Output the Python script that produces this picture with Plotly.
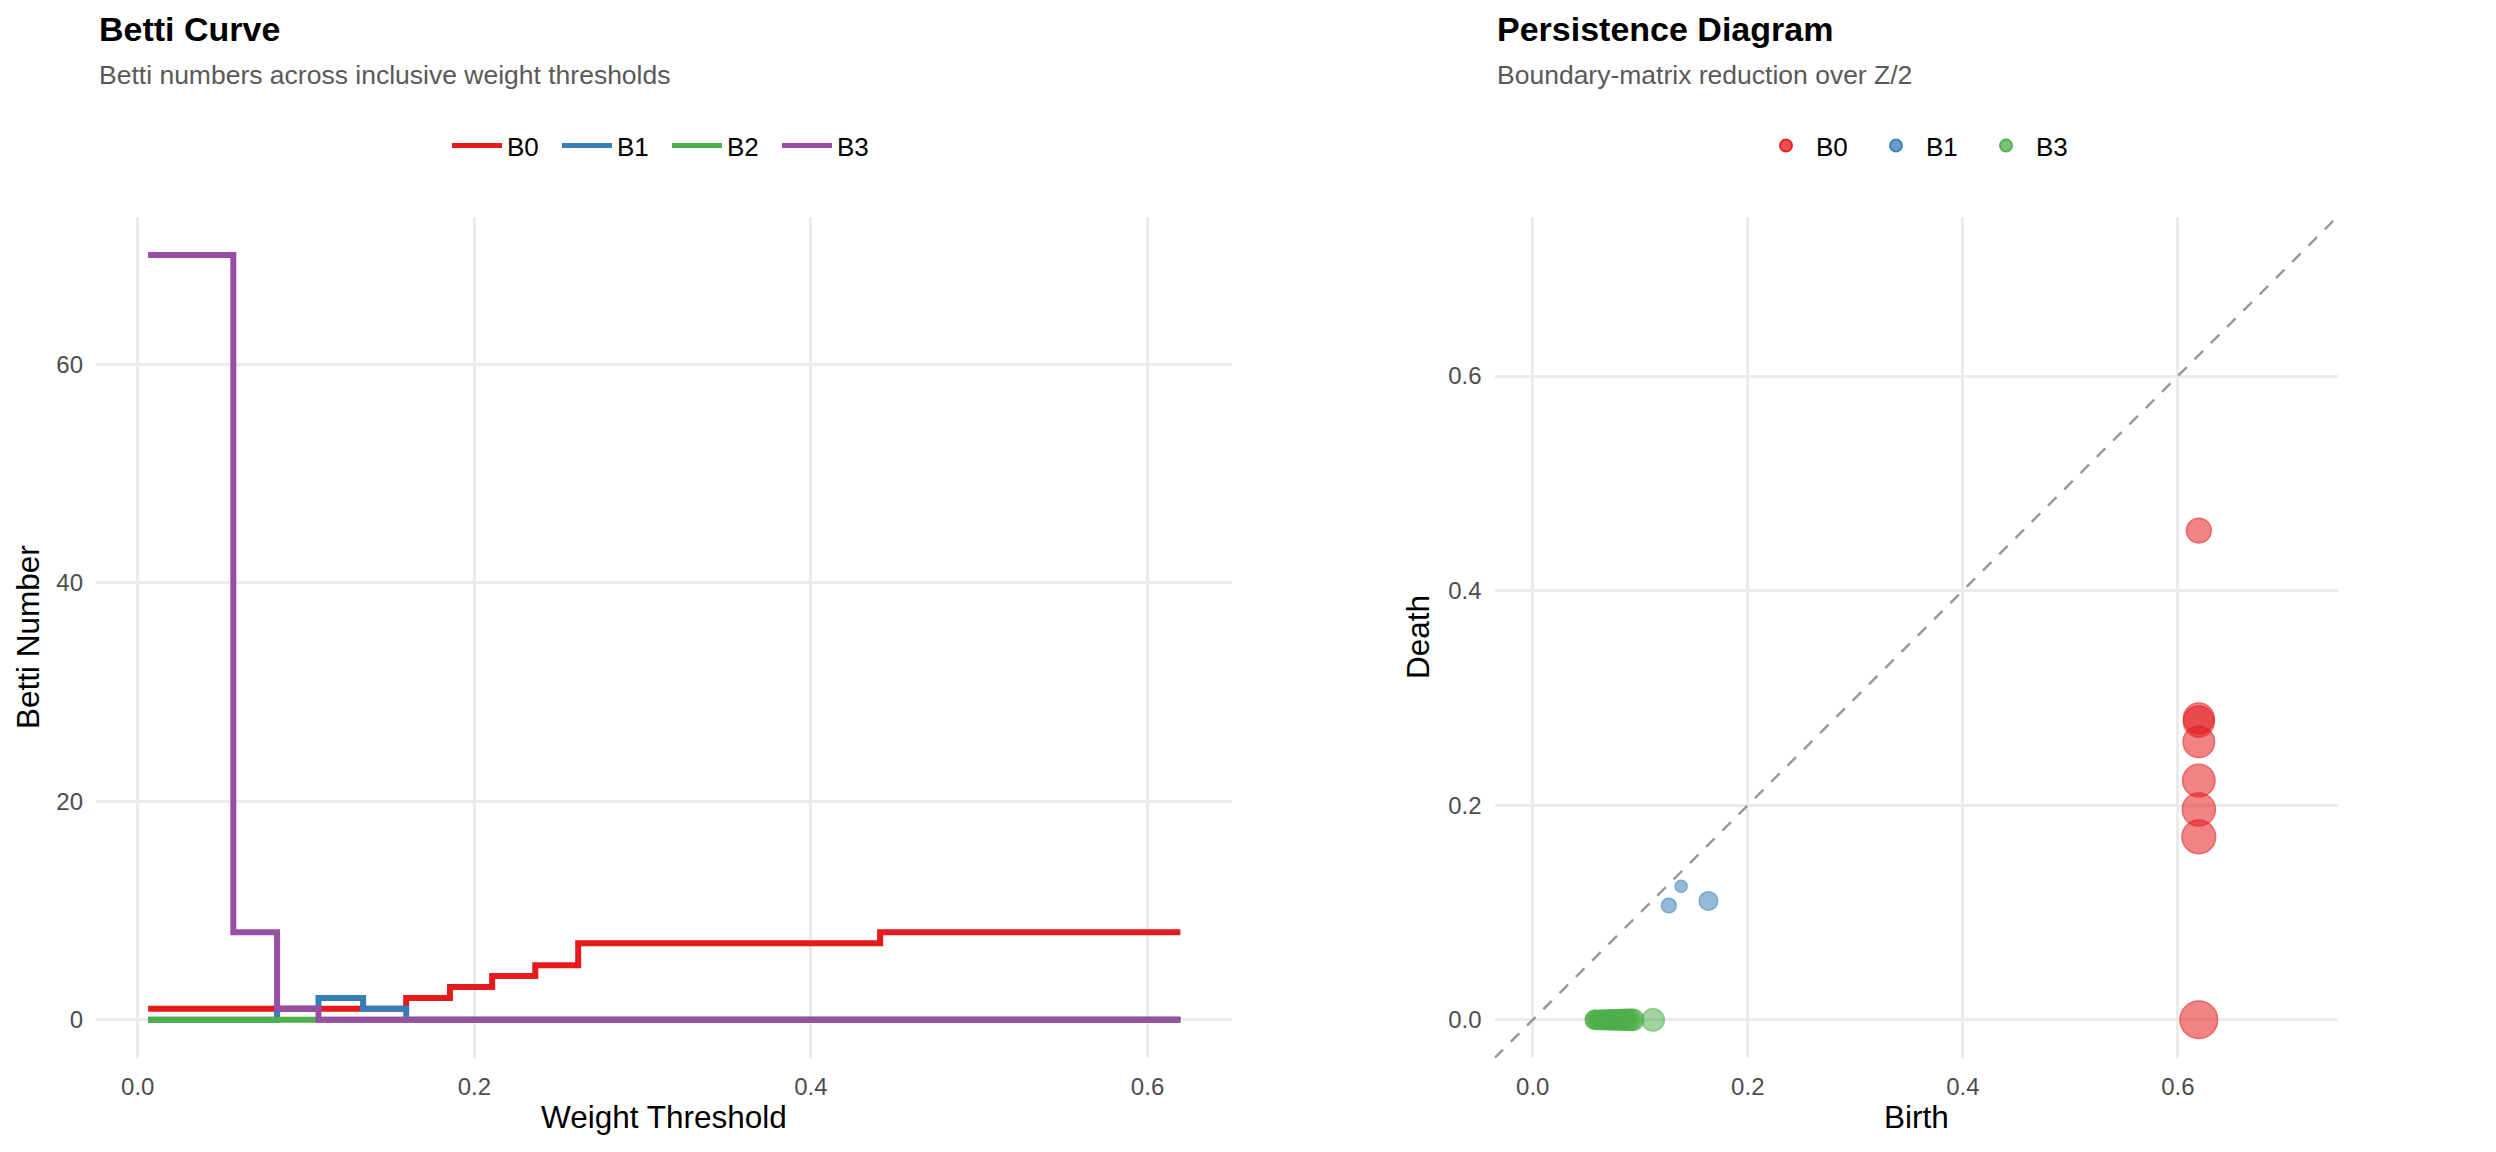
#!/usr/bin/env python3
"""
Betti curve + persistence diagram, two panels side by side.
Usage: python3 plot.py
"""

import numpy as np
import plotly.graph_objects as go
from plotly.subplots import make_subplots

# ---- Betti curve data (step functions over inclusive weight thresholds) ----
thresholds = [0.0062, 0.0568, 0.0828, 0.1074, 0.1339, 0.1595, 0.1855,
              0.2106, 0.2362, 0.2617, 0.4411, 0.6195]
betti_b0 = [1, 1, 1, 1, 1, 2, 3, 4, 5, 7, 8, 8]
betti_b1 = [0, 0, 1, 2, 1, 0, 0, 0, 0, 0, 0, 0]
betti_b2 = [0, 0, 0, 0, 0, 0, 0, 0, 0, 0, 0, 0]
betti_b3 = [70, 8, 1, 0, 0, 0, 0, 0, 0, 0, 0, 0]

# ---- Persistence diagram data ----
b0_birth = [0.6195, 0.6195, 0.6195, 0.6195, 0.6195, 0.6195, 0.6195, 0.6195]
b0_death = [0.456, 0.281, 0.278, 0.259, 0.223, 0.196, 0.1705, 0.0]
b1_birth = [0.1265, 0.138, 0.1634]
b1_death = [0.1065, 0.1245, 0.1108]
b3_birth = [0.0576, 0.0578, 0.060, 0.062, 0.0645, 0.0665, 0.069, 0.0715,
            0.074, 0.0765, 0.079, 0.0815, 0.084, 0.0865, 0.089, 0.0915,
            0.0935, 0.1119]
b3_death = [0.0, 0.0, 0.0, 0.0, 0.0, 0.0, 0.0, 0.0, 0.0,
            0.0, 0.0, 0.0, 0.0, 0.0, 0.0, 0.0, 0.0, 0.0]

# Set1 palette
RED = "#E41A1C"
BLUE = "#377EB8"
GREEN = "#4DAF4A"
PURPLE = "#984EA3"

# page is 2496x1152; the html body keeps an 8px margin, so the figure is
# a bit smaller and positions below are given in page pixels
PAGE_W, PAGE_H = 2496, 1152
PAD = 8
W, H = PAGE_W - 2 * PAD, PAGE_H - 2 * PAD
FONT = "Liberation Sans, Arial, sans-serif"
GRID = "#EBEBEB"
TICK = "#4D4D4D"
ALPHA = 0.76


def px_x(v):
    return (v - PAD) / W


def px_y(v):
    return 1 - (v - PAD) / H


def rgba(hex_color, a):
    h = hex_color.lstrip("#")
    r, g, b = int(h[0:2], 16), int(h[2:4], 16), int(h[4:6], 16)
    return f"rgba({r},{g},{b},{a})"


# marker size mapped from persistence (area-style scale like ggplot)
all_pers = np.abs(np.array(b0_birth + b1_birth + b3_birth) -
                  np.array(b0_death + b1_death + b3_death))
P_MIN, P_MAX = all_pers.min(), all_pers.max()


def sizes(birth, death):
    p = np.abs(np.array(birth) - np.array(death))
    r = 6.0 + 12.8 * np.sqrt((p - P_MIN) / (P_MAX - P_MIN))
    return 2 * r


fig = make_subplots(rows=1, cols=2)

# ---- Left: Betti curve ----
for name, vals, col in [("B0", betti_b0, RED), ("B1", betti_b1, BLUE),
                        ("B2", betti_b2, GREEN), ("B3", betti_b3, PURPLE)]:
    fig.add_trace(go.Scatter(
        x=thresholds, y=vals, mode="lines", name=name,
        line=dict(color=col, width=6, shape="hv"),
        legend="legend", showlegend=True,
    ), row=1, col=1)

# ---- Right: persistence diagram ----
lo, hi = -0.0356, 0.7485
fig.add_trace(go.Scatter(
    x=[lo, hi], y=[lo, hi], mode="lines",
    line=dict(color="#999999", width=2.5, dash="12px,11px"),
    showlegend=False, hoverinfo="skip",
), row=1, col=2)

for name, bx, dy, col in [("B0", b0_birth, b0_death, RED),
                          ("B1", b1_birth, b1_death, BLUE),
                          ("B3", b3_birth, b3_death, GREEN)]:
    fig.add_trace(go.Scatter(
        x=bx, y=dy, mode="markers", name=name,
        marker=dict(size=sizes(bx, dy), color=rgba(col, ALPHA),
                    line=dict(color=rgba(col, 0.95), width=1.5)),
        showlegend=False,
    ), row=1, col=2)
    # legend stand-in with a fixed-size dot
    fig.add_trace(go.Scatter(
        x=[None], y=[None], mode="markers", name=name,
        marker=dict(size=13, color=rgba(col, ALPHA),
                    line=dict(color=rgba(col, 0.95), width=1)),
        legend="legend2", showlegend=True,
    ), row=1, col=2)

# ---- Axes ----
left_dom = [px_x(96), px_x(1231.7)]
right_dom = [px_x(1494.5), px_x(2337.5)]
y_dom = [px_y(1058), px_y(216.7)]

axis_common = dict(
    showgrid=True, gridcolor=GRID, gridwidth=3,
    zeroline=False, showline=False, ticks="",
    tickfont=dict(family=FONT, size=24, color=TICK),
    automargin=False, ticklabelstandoff=12,
)

fig.update_xaxes(domain=left_dom, range=[-0.0248, 0.650],
                 tickvals=[0, 0.2, 0.4, 0.6], tickformat=".1f",
                 row=1, col=1, **axis_common)
fig.update_yaxes(domain=y_dom, range=[-3.5, 73.5],
                 tickvals=[0, 20, 40, 60],
                 row=1, col=1, **axis_common)
fig.update_xaxes(domain=right_dom, range=[lo, hi],
                 tickvals=[0, 0.2, 0.4, 0.6], tickformat=".1f",
                 row=1, col=2, **axis_common)
fig.update_yaxes(domain=y_dom, range=[lo, hi],
                 tickvals=[0, 0.2, 0.4, 0.6], tickformat=".1f",
                 row=1, col=2, **axis_common)

# ---- Titles, subtitles, axis titles ----
annotations = [
    dict(text="<b>Betti Curve</b>", x=px_x(97), y=px_y(29.5),
         font=dict(size=34, color="#000000")),
    dict(text="Betti numbers across inclusive weight thresholds",
         x=px_x(97), y=px_y(75.3), font=dict(size=26.5, color="#595959")),
    dict(text="<b>Persistence Diagram</b>", x=px_x(1495), y=px_y(29.5),
         font=dict(size=34, color="#000000")),
    dict(text="Boundary-matrix reduction over Z/2",
         x=px_x(1495), y=px_y(75.3), font=dict(size=26.5, color="#595959")),
]
for a in annotations:
    a.update(xref="paper", yref="paper", xanchor="left", yanchor="middle",
             showarrow=False)
    a["font"]["family"] = FONT
    fig.add_annotation(**a)

axis_titles = [
    dict(text="Weight Threshold", x=px_x(663.8), y=px_y(1117), textangle=0),
    dict(text="Birth", x=px_x(1916), y=px_y(1117), textangle=0),
    dict(text="Betti Number", x=px_x(28), y=px_y(637), textangle=-90),
    dict(text="Death", x=px_x(1418), y=px_y(637), textangle=-90),
]
for a in axis_titles:
    fig.add_annotation(
        xref="paper", yref="paper", xanchor="center", yanchor="middle",
        showarrow=False, font=dict(family=FONT, size=31.5, color="#000000"), **a)

legend_common = dict(
    orientation="h", xanchor="center", yanchor="middle",
    font=dict(family=FONT, size=26, color="#000000"),
    bgcolor="rgba(0,0,0,0)", entrywidth=45, entrywidthmode="pixels",
    itemsizing="constant", itemwidth=50,
)

fig.update_layout(
    width=W, height=H,
    margin=dict(l=0, r=0, t=0, b=0),
    paper_bgcolor="white", plot_bgcolor="white",
    font=dict(family=FONT),
    legend=dict(x=px_x(667), y=px_y(145.7), **legend_common),
    legend2=dict(x=px_x(1921), y=px_y(145.7), **legend_common),
    hovermode="closest",
)

fig.write_html("out.html")
